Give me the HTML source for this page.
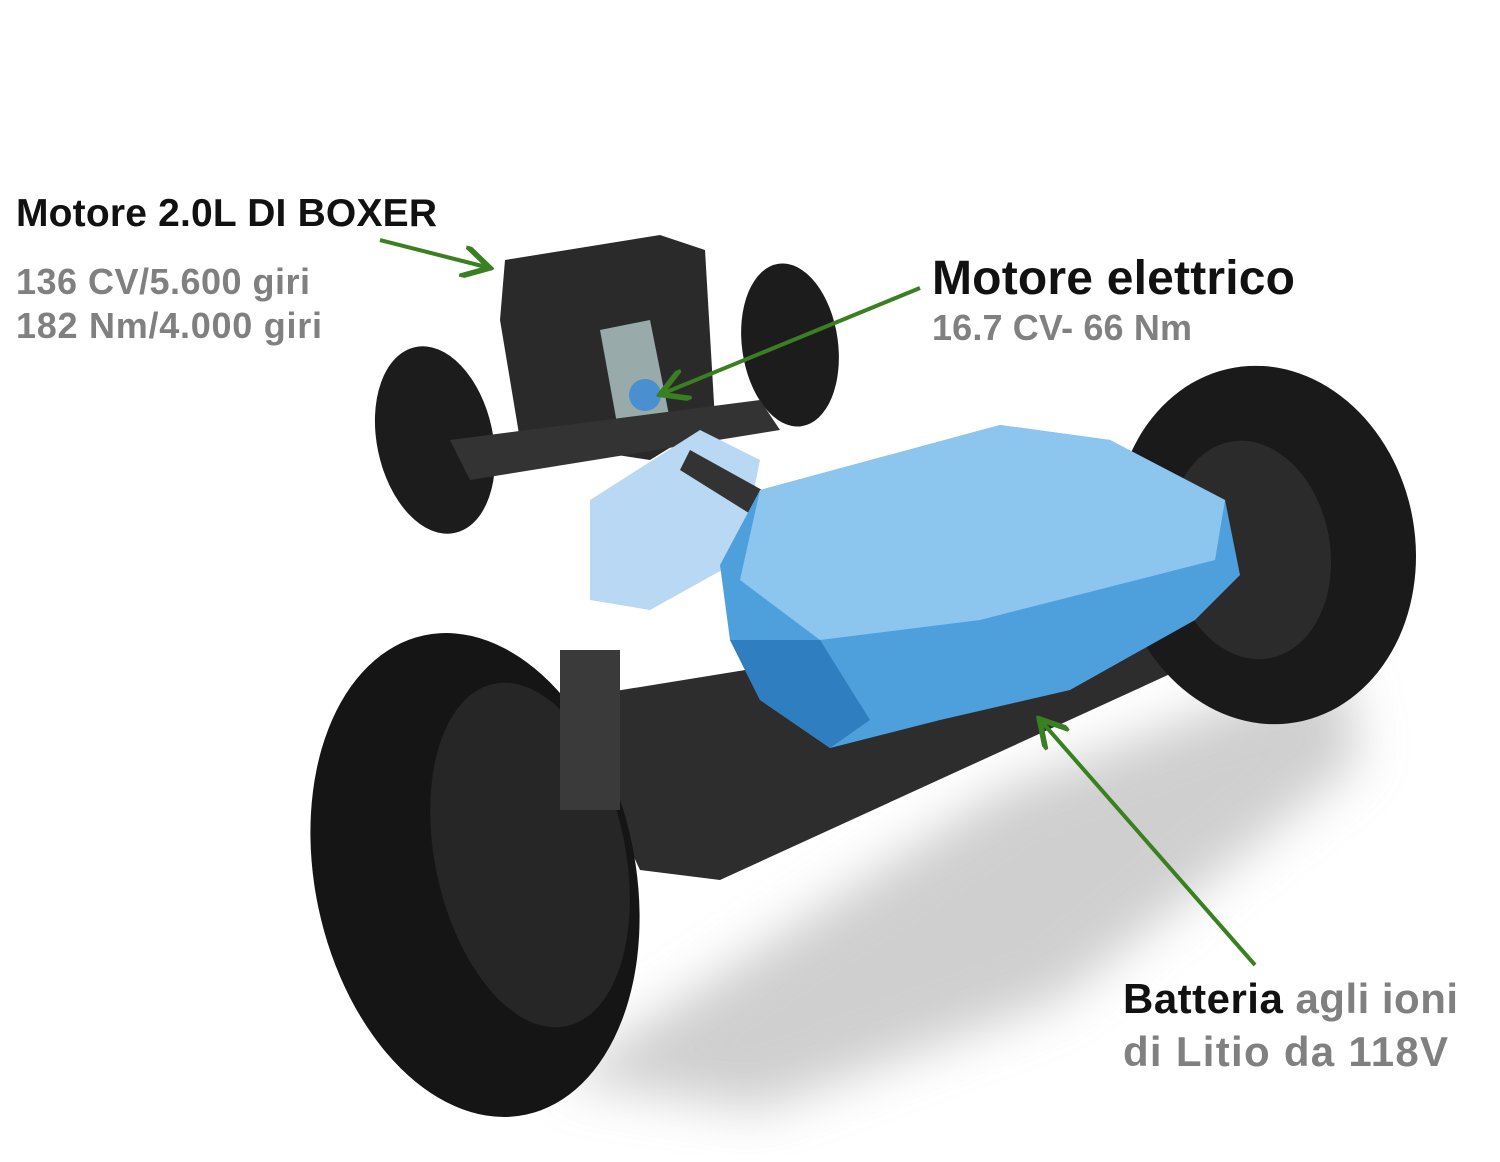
<!DOCTYPE html>
<html><head><meta charset="utf-8"><style>
html,body{margin:0;padding:0;background:#fff;}
svg{display:block}
text{font-family:"Liberation Sans",sans-serif;}
</style></head><body>
<svg width="1500" height="1162" viewBox="0 0 1500 1162" xmlns="http://www.w3.org/2000/svg">
<defs>
<marker id="ah" markerWidth="8" markerHeight="8" refX="6" refY="4" orient="auto" markerUnits="strokeWidth">
<path d="M0,0 L7,4 L0,8" fill="none" stroke="#3a7f22" stroke-width="1.4"/></marker>
<filter id="bl"><feGaussianBlur stdDeviation="25"/></filter>
</defs>
<rect width="1500" height="1162" fill="#fff"/>
<path d="M560,1080 L1000,790 L1340,660 L1360,760 L1060,1000 L760,1110 Z" fill="#bbb" filter="url(#bl)" opacity="0.7"/>
<ellipse cx="435" cy="440" rx="58" ry="95" transform="rotate(-12 435 440)" fill="#1c1c1c"/>
<ellipse cx="790" cy="345" rx="48" ry="82" transform="rotate(-8 790 345)" fill="#1c1c1c"/>
<path d="M505,260 L660,235 L705,250 L715,420 L650,460 L520,440 L500,320 Z" fill="#2a2a2a"/>
<path d="M600,330 L650,320 L670,420 L620,440 Z" fill="#9aa"/>
<circle cx="645" cy="395" r="16" fill="#4a8fd0"/>
<path d="M450,440 L760,400 L780,430 L470,480 Z" fill="#333"/>
<path d="M590,500 L700,430 L760,460 L740,560 L650,610 L590,600 Z" fill="#b8d8f4"/>
<path d="M560,700 L1300,580 L1310,610 L720,880 L640,870 Z" fill="#2d2d2d"/>
<path d="M690,450 L780,500 L760,520 L680,470 Z" fill="#333"/>
<ellipse cx="1265" cy="545" rx="150" ry="180" transform="rotate(-10 1265 545)" fill="#1a1a1a"/>
<ellipse cx="1250" cy="550" rx="80" ry="110" transform="rotate(-10 1250 550)" fill="#2b2b2b"/>
<path d="M720,565 L760,490 L1000,425 L1110,440 L1225,500 L1240,575 L1195,620 L1070,690 L940,720 L830,748 L760,700 L730,640 Z" fill="#4ea0dc"/>
<path d="M760,490 L1000,425 L1110,440 L1225,500 L1215,560 L980,620 L820,640 L740,580 Z" fill="#8cc6ef"/>
<path d="M830,748 L760,700 L730,640 L820,640 L870,720 Z" fill="#2f7fc0"/>
<ellipse cx="475" cy="875" rx="160" ry="245" transform="rotate(-12 475 875)" fill="#151515"/>
<ellipse cx="530" cy="855" rx="95" ry="175" transform="rotate(-12 530 855)" fill="#262626"/>
<rect x="560" y="650" width="60" height="160" fill="#3a3a3a"/>
<line x1="380" y1="240" x2="486" y2="267" stroke="#3a7f22" stroke-width="4" marker-end="url(#ah)"/>
<line x1="920" y1="288" x2="664" y2="393" stroke="#3a7f22" stroke-width="4" marker-end="url(#ah)"/>
<line x1="1255" y1="965" x2="1042" y2="722" stroke="#3a7f22" stroke-width="4" marker-end="url(#ah)"/>
<text x="16" y="226" font-size="39" font-weight="bold" fill="#111" textLength="421">Motore 2.0L DI BOXER</text>
<text x="16" y="294" font-size="36" font-weight="bold" fill="#808080" textLength="294">136 CV/5.600 giri</text>
<text x="16" y="338" font-size="36" font-weight="bold" fill="#808080" textLength="306">182 Nm/4.000 giri</text>
<text x="932" y="294" font-size="48" font-weight="bold" fill="#111" textLength="363">Motore elettrico</text>
<text x="932" y="340" font-size="36" font-weight="bold" fill="#808080" textLength="260">16.7 CV- 66 Nm</text>
<text x="1123" y="1013" font-size="42" font-weight="bold" fill="#111" textLength="335">Batteria <tspan fill="#808080">agli ioni</tspan></text>
<text x="1123" y="1066" font-size="42" font-weight="bold" fill="#808080" textLength="325">di Litio da 118V</text>
</svg>
</body></html>
